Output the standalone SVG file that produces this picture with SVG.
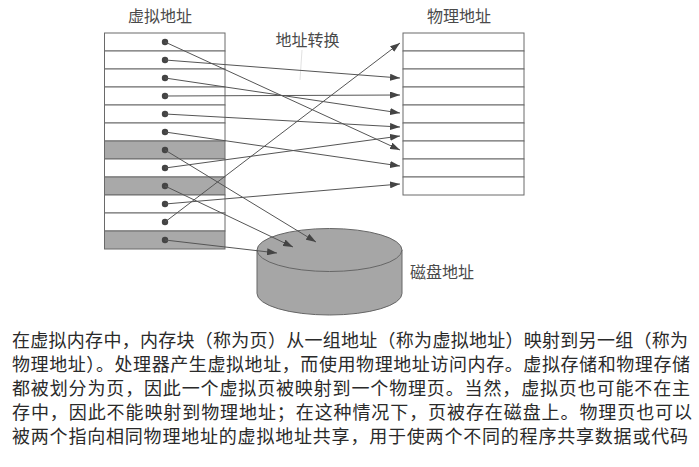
<svg xmlns="http://www.w3.org/2000/svg" width="699" height="467" viewBox="0 0 699 467">
<style>
.lbl{font-family:"Noto Sans CJK SC","Noto Sans",sans-serif;font-size:16px;fill:#4a4a4a;}
.para{font-family:"Noto Sans CJK SC","Noto Sans",sans-serif;font-size:18px;fill:#2a2a2a;}
.cell{fill:#fff;stroke:#6a6a6a;stroke-width:1;}
.shade{fill:#a9a9a9;stroke:#6a6a6a;stroke-width:1;}
.dot{fill:#444;}
.conn{stroke:#555;stroke-width:1;fill:none;marker-end:url(#ah);}
.disk{fill:#a6a6a6;stroke:#666;stroke-width:1;}
</style>
<defs>
<marker id="ah" markerUnits="userSpaceOnUse" markerWidth="11" markerHeight="7" refX="10" refY="3.5" orient="auto">
<path d="M0,0 L10,3.5 L0,7 Z" fill="#444"/>
</marker>
</defs>
<rect width="699" height="467" fill="#fff"/>

<g id="virtual">
<text class="lbl" x="160" y="22" text-anchor="middle">虚拟地址</text>
<rect class="cell" x="104.5" y="33" width="120.5" height="18"/>
<rect class="cell" x="104.5" y="51" width="120.5" height="18"/>
<rect class="cell" x="104.5" y="69" width="120.5" height="18"/>
<rect class="cell" x="104.5" y="87" width="120.5" height="18"/>
<rect class="cell" x="104.5" y="105" width="120.5" height="18"/>
<rect class="cell" x="104.5" y="123" width="120.5" height="18"/>
<rect class="shade" x="104.5" y="141" width="120.5" height="18"/>
<rect class="cell" x="104.5" y="159" width="120.5" height="18"/>
<rect class="shade" x="104.5" y="177" width="120.5" height="18"/>
<rect class="cell" x="104.5" y="195" width="120.5" height="18"/>
<rect class="cell" x="104.5" y="213" width="120.5" height="18"/>
<rect class="shade" x="104.5" y="231" width="120.5" height="18"/>
<circle class="dot" cx="165" cy="42" r="3.2"/>
<circle class="dot" cx="165" cy="60" r="3.2"/>
<circle class="dot" cx="165" cy="78" r="3.2"/>
<circle class="dot" cx="165" cy="96" r="3.2"/>
<circle class="dot" cx="165" cy="114" r="3.2"/>
<circle class="dot" cx="165" cy="132" r="3.2"/>
<circle class="dot" cx="165" cy="150" r="3.2"/>
<circle class="dot" cx="165" cy="168" r="3.2"/>
<circle class="dot" cx="165" cy="186" r="3.2"/>
<circle class="dot" cx="165" cy="204" r="3.2"/>
<circle class="dot" cx="165" cy="222" r="3.2"/>
<circle class="dot" cx="165" cy="240" r="3.2"/>
</g>

<g id="physical">
<text class="lbl" x="459" y="22" text-anchor="middle">物理地址</text>
<rect class="cell" x="403" y="33" width="121" height="18"/>
<rect class="cell" x="403" y="51" width="121" height="18"/>
<rect class="cell" x="403" y="69" width="121" height="18"/>
<rect class="cell" x="403" y="87" width="121" height="18"/>
<rect class="cell" x="403" y="105" width="121" height="18"/>
<rect class="cell" x="403" y="123" width="121" height="18"/>
<rect class="cell" x="403" y="141" width="121" height="18"/>
<rect class="cell" x="403" y="159" width="121" height="18"/>
<rect class="cell" x="403" y="177" width="121" height="18"/>
</g>

<g id="disk">
<path class="disk" d="M257,250 L257,293.5 A72.5,21.5 0 0 0 402,293.5 L402,250 Z"/>
<ellipse class="disk" cx="329.5" cy="250" rx="72.5" ry="21.5"/>
<text class="lbl" x="410" y="278">磁盘地址</text>
</g>

<g id="translation">
<text class="lbl" x="307.5" y="46" text-anchor="middle">地址转换</text>
<path d="M302,50 L300,80" stroke="#d4d4d4" stroke-width="0.7" fill="none"/>
</g>

<g id="connectors">
<path class="conn" d="M165,42 L400,150"/>
<path class="conn" d="M165,60 L400,78"/>
<path class="conn" d="M165,78 L400,113"/>
<path class="conn" d="M165,96 L400,95"/>
<path class="conn" d="M165,114 L400,127"/>
<path class="conn" d="M165,132 L400,166"/>
<path class="conn" d="M165,150 L316,242"/>
<path class="conn" d="M165,168 L400,136"/>
<path class="conn" d="M165,186 L293,247"/>
<path class="conn" d="M165,204 L400,184"/>
<path class="conn" d="M165,222 L400,43"/>
<path class="conn" d="M165,240 L277,253"/>
</g>

<g id="caption">
<text class="para" x="12" y="347" textLength="676" lengthAdjust="spacing">在虚拟内存中，内存块（称为页）从一组地址（称为虚拟地址）映射到另一组（称为</text>
<text class="para" x="12" y="371" textLength="678" lengthAdjust="spacing">物理地址）。处理器产生虚拟地址，而使用物理地址访问内存。虚拟存储和物理存储</text>
<text class="para" x="12" y="395" textLength="678" lengthAdjust="spacing">都被划分为页，因此一个虚拟页被映射到一个物理页。当然，虚拟页也可能不在主</text>
<text class="para" x="12" y="419" textLength="680" lengthAdjust="spacing">存中，因此不能映射到物理地址；在这种情况下，页被存在磁盘上。物理页也可以</text>
<text class="para" x="12" y="443" textLength="676" lengthAdjust="spacing">被两个指向相同物理地址的虚拟地址共享，用于使两个不同的程序共享数据或代码</text>
</g>
</svg>
